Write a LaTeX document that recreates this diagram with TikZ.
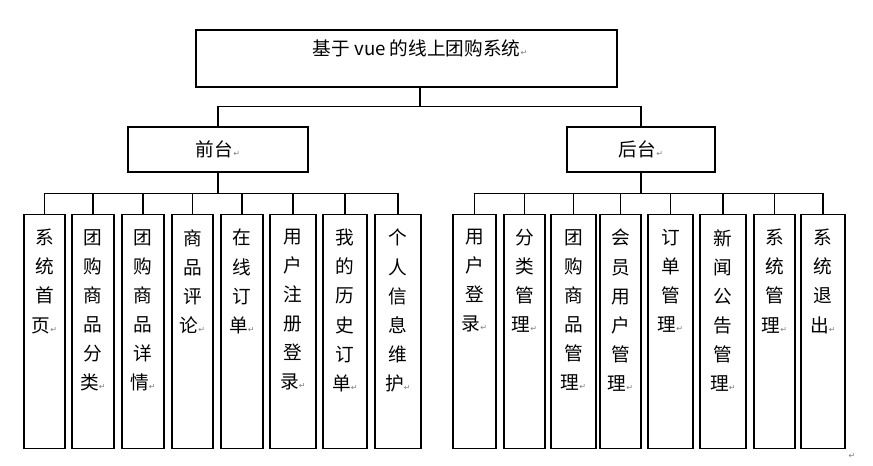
\documentclass[tikz,border=0pt]{standalone}
\usepackage{fontspec}
\usetikzlibrary{calc}
\newfontfamily\cjk{Noto Sans CJK SC}
\newfontfamily\sym{DejaVu Sans}
\newcommand\ret{{\sym\fontsize{6}{6}\selectfont\textcolor{gray}{↵}}}

\tikzset{
  box/.style={draw, thick, inner sep=0pt},
  word/.style={font=\cjk\fontsize{14}{21.8}\selectfont, align=center, inner sep=0pt},
  link/.style={draw, thick}
}

\begin{document}
\begin{tikzpicture}[x=0.75pt, y=-0.75pt]
\useasboundingbox (0,0) rectangle (873,465);

% root and the two branches
\node[box, minimum width=421*0.75pt, minimum height=57*0.75pt] (top) at (406.5,58.5) {};
\node[word] at (420,48) {基于 vue 的线上团购系统\ret};
\node[box, minimum width=180*0.75pt, minimum height=45*0.75pt] (front) at (218,149.5) {};
\node[word] at (218,149.5) {前台\ret};
\node[box, minimum width=148*0.75pt, minimum height=45*0.75pt] (back) at (641,149.5) {};
\node[word] at (641,149.5) {后台\ret};

\coordinate (trunk) at ($(top.south)+(13.5,0)$);
\draw[link] (trunk) -- ++(0,19) -| (front.north);
\draw[link] (trunk) -- ++(0,19) -| (back.north);

% front end leaves
\foreach \i/\cx/\w/\txt in {
  1/44.5/41/{系\\统\\首\\页\ret},
  2/93/42/{团\\购\\商\\品\\分\\类\ret},
  3/143/42/{团\\购\\商\\品\\详\\情\ret},
  4/192.5/41/{商\\品\\评\\论\ret},
  5/242/42/{在\\线\\订\\单\ret},
  6/293/46/{用\\户\\注\\册\\登\\录\ret},
  7/345/44/{我\\的\\历\\史\\订\\单\ret},
  8/398/46/{个\\人\\信\\息\\维\\护\ret}}{
  \node[box, minimum width=\w*0.75pt, minimum height=234*0.75pt, anchor=north] (f\i) at (\cx,214) {};
  \node[word, anchor=north] at ($(f\i.north)+(0,15)$) {\txt};
  \draw[link] (front.south) -- ++(0,21) -| (f\i.north);
}

% back end leaves
\foreach \i/\cx/\w/\txt in {
  1/474.5/43/{用\\户\\登\\录\ret},
  2/524.5/41/{分\\类\\管\\理\ret},
  3/573.5/45/{团\\购\\商\\品\\管\\理\ret},
  4/620.5/41/{会\\员\\用\\户\\管\\理\ret},
  5/670.5/45/{订\\单\\管\\理\ret},
  6/723/46/{新\\闻\\公\\告\\管\\理\ret},
  7/774.5/41/{系\\统\\管\\理\ret},
  8/823/44/{系\\统\\退\\出\ret}}{
  \node[box, minimum width=\w*0.75pt, minimum height=234*0.75pt, anchor=north] (b\i) at (\cx,214) {};
  \node[word, anchor=north] at ($(b\i.north)+(0,15)$) {\txt};
  \draw[link] (back.south) -- ++(0,21) -| (b\i.north);
}
\node[word] (mark) at (852,456) {\ret};
\end{tikzpicture}
\end{document}
